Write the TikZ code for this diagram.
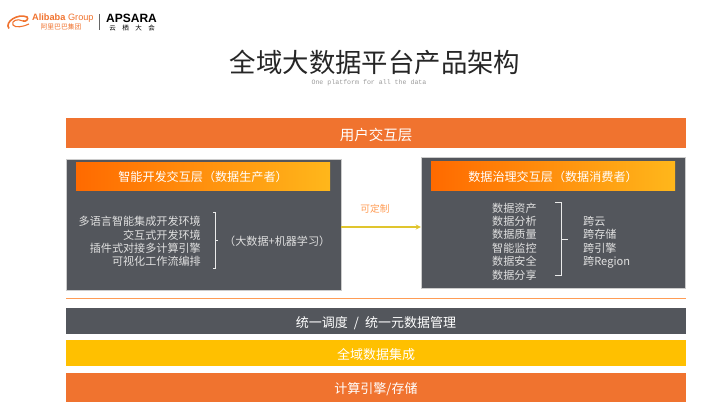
\documentclass[tikz,border=0pt]{standalone}
\usepackage{fontspec}
\setmainfont{Noto Sans CJK SC}
\newfontfamily\logofont{Liberation Sans}
\newfontfamily\subfont{Liberation Mono}
\usetikzlibrary{positioning,calc}
\definecolor{barO}{HTML}{F0732F}
\definecolor{barY}{HTML}{FFC000}
\definecolor{barD}{HTML}{53565C}
\definecolor{headL}{HTML}{FF6A00}
\definecolor{headR}{HTML}{FFB71B}
\definecolor{lineO}{HTML}{FF9C55}
\definecolor{arrowY}{HTML}{E0C52E}
\newcommand{\fsz}[1]{\fontsize{#1}{#1}\selectfont}

\begin{document}
\begin{tikzpicture}
  [x=1pt,y=-1pt,
   barN/.style={minimum width=620pt,inner sep=0pt,text=white,text height=12.5pt,text depth=0pt,font=\fsz{13}},
   panelN/.style={fill=barD,draw=black!20,line width=0.3pt,inner sep=0pt},
   headN/.style={left color=headL,right color=headR,inner sep=0pt,text=white,text height=11pt,text depth=0pt,font=\fsz{12.1}},
   listN/.style={inner sep=0pt,text=white!88!black,font=\fontsize{11.1}{13.45}\selectfont},
   braceL/.style={draw=white!92!black,line width=0.7pt}]

  \useasboundingbox (0,0) rectangle (720,409);

  % logos
  \draw [barO,line width=1.6pt] (9,28.5) .. controls (4,22) and (18,13) .. (27,17) .. controls (29,19) and (26,22) .. (23,21);
  \draw [barO,line width=1.1pt] (23,21) .. controls (17,18) and (11,21) .. (13,25) .. controls (15,28) and (23,27) .. (29,24);
  \node [inner sep=0pt,anchor=west,text=barO] (alibaba) at (32,18) {\logofont\fsz{9.2}\textbf{Alibaba} Group};
  \node [inner sep=0pt,text=barO] (alibabaCn) at (61,27) {\fsz{6.8}阿里巴巴集团};
  \node [inner sep=0pt,anchor=west] (apsara) at (106,18) {\logofont\fsz{12}\textbf{APSARA}};
  \node [inner sep=0pt] (yunqi) at (132,28.5) {\fsz{6.5}云\hspace{6.5pt}栖\hspace{6.5pt}大\hspace{6.5pt}会};
  \draw [black!60,line width=0.6pt] (99.5,14) -- (99.5,30);

  % title
  \node [inner sep=0pt,text=black!85] (title) at (375,62) {\fsz{26.4}全域大数据平台产品架构};
  \node [inner sep=0pt,text=black!40] (subtitle) at (369,82.5) {\subfont\fsz{6.6}One platform for all the data};

  % bars
  \node [barN,fill=barO,minimum height=30pt,font=\fsz{14.5},text height=14pt] (user) at (376,133) {用户交互层};
  \node [barN,fill=barD,minimum height=26pt] (sched) at (376,321) {统一调度\hspace{6pt}/\hspace{6pt}统一元数据管理};
  \node [barN,fill=barY,minimum height=26pt] (integ) at (376,353) {全域数据集成};
  \node [barN,fill=barO,minimum height=29pt] (engine) at (376,387.5) {计算引擎/存储};

  % panels
  \node [panelN,minimum width=275pt,minimum height=131pt] (devBox) at (203.5,224.5) {};
  \node [panelN,minimum width=264pt,minimum height=131pt] (govBox) at (553,222.5) {};
  \node [headN,minimum width=254pt,minimum height=28pt] (devHead) at (203,176) {智能开发交互层（数据生产者）};
  \node [headN,minimum width=244pt,minimum height=29pt] (govHead) at (553,175.5) {数据治理交互层（数据消费者）};

  % left panel
  \node [listN,align=right,anchor=east] (devList) at (201,241.5) {多语言智能集成开发环境\\交互式开发环境\\插件式对接多计算引擎\\可视化工作流编排};
  \node [listN,anchor=west] (devNote) at (224,241.5) {（大数据+机器学习）};
  \draw [braceL] (213,212) -- (215,212) -- (215,268) -- (213,268);
  \draw [braceL] (215,240) -- (218,240);

  % right panel
  \node [listN,align=left,anchor=west] (govList) at (492,241.5) {数据资产\\数据分析\\数据质量\\智能监控\\数据安全\\数据分享};
  \node [listN,align=left,anchor=west] (govNote) at (583,242.5) {跨云\\跨存储\\跨引擎\\跨Region};
  \draw [braceL] (555,202) -- (561,202) -- (561,275) -- (555,275);
  \draw [braceL] (561,239) -- (568,239);

  % link between panels
  \draw [arrowY,line width=1.3pt,-stealth] ([yshift=-2.5pt]devBox.east) -- ([yshift=-4.5pt]govBox.west);
  \node [inner sep=0pt,text=lineO,font=\fsz{9.7}] (custom) at (375,209) {可定制};

  \coordinate (ruleL) at (66,298.5);
  \coordinate (ruleR) at (686,298.5);
  \draw [lineO,line width=1pt] (ruleL) -- (ruleR);
\end{tikzpicture}
\end{document}
